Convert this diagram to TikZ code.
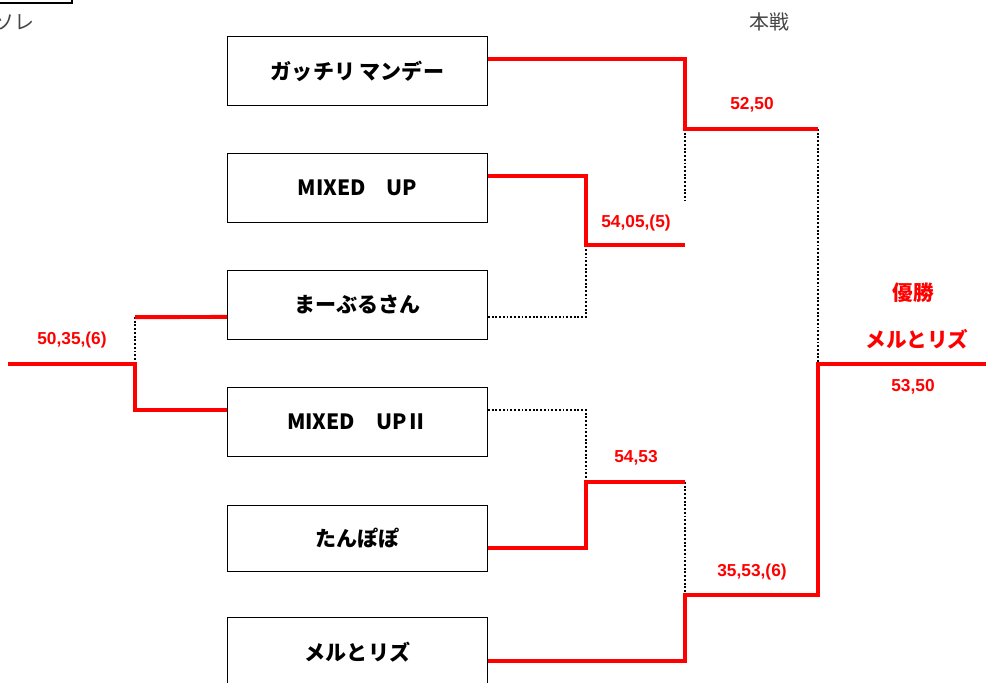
\documentclass[tikz,border=0pt]{standalone}
\usepackage{fontspec}
\setmainfont{Liberation Sans}
\newfontfamily\jp{Noto Sans CJK JP}
\usetikzlibrary{positioning}
\definecolor{wred}{RGB}{255,0,0}
\definecolor{note}{RGB}{70,70,70}
\tikzstyle{team} = [rectangle, minimum width=195pt, minimum height=52pt, text centered, draw=black, line width=1pt, font=\jp\bfseries\fontsize{15.8}{18}\selectfont]
\tikzstyle{win} = [line width=3pt, draw=wred]
\tikzstyle{lose} = [line width=1.4pt, draw=black, dash pattern=on 1.4pt off 1.4pt]
\tikzstyle{score} = [text=wred, font=\bfseries\fontsize{13}{15}\selectfont]
\tikzstyle{head} = [text=note, font=\jp\fontsize{15}{18}\selectfont]

\begin{document}
\begin{tikzpicture}[x=0.0264cm, y=-0.0264cm]
\clip (0,0) rectangle (986,682);
% Headings
\draw [line width=1.2pt] (-20,-20) rectangle (72,3);
\node (prev) [head] at (14,22) {ソレ};
\node (main) [head] at (769,22) {本戦};

% Teams
\node (b1) [team] at (357.5,71) {ガッチリ マンデー};
\node (b2) [team] at (357.5,188) {MIXED　UP};
\node (b3) [team] at (357.5,305) {まーぶるさん};
\node (b4) [team] at (357.5,422) {MIXED　UPⅡ};
\node (b5) [team, minimum height=50pt] at (357.5,538.5) {たんぽぽ};
\node (b6) [team] at (357.5,652) {メルとリズ};

% Junction points
\coordinate (s1) at (586,245);
\coordinate (s1end) at (685,245);
\coordinate (q1) at (685,129);
\coordinate (q1dot) at (685,200);
\coordinate (f1) at (818,129);
\coordinate (s2) at (586,482);
\coordinate (s2end) at (685,482);
\coordinate (q2) at (685,595);
\coordinate (f2) at (818,595);
\coordinate (fin) at (818,364);
\coordinate (champ) at (986,364);
\coordinate (l1) at (135,317);
\coordinate (l0) at (135,364);
\coordinate (lstart) at (8,364);

% Upper half
\draw [lose] ([yshift=-9pt]b3.east) -| (s1);
\draw [lose] (q1) -- (q1dot);
\draw [lose] (f1) -- (fin);
\draw [win] ([yshift=9pt]b2.east) -| (s1) -- (s1end);
\draw [win] ([yshift=9pt]b1.east) -| (q1) -- (f1);

% Lower half
\draw [lose] ([yshift=9pt]b4.east) -| (s2);
\draw [lose] (s2end) -- (q2);
\draw [win] ([yshift=-7pt]b5.east) -| (s2) -- (s2end);
\draw [win] ([yshift=-7pt]b6.east) -| (q2) -- (f2) -- (fin) -- (champ);

% Play-off on the left
\draw [lose] (l1) -- (l0);
\draw [win] ([yshift=-9pt]b3.west) -- (l1);
\draw [win] (lstart) -- (l0) |- ([yshift=9pt]b4.west);

% Scores
\node (sc1) [score] at (752,105) {52,50};
\node (sc2) [score] at (636,223) {54,05,(5)};
\node (sc3) [score] at (636,458) {54,53};
\node (sc4) [score] at (752,572) {35,53,(6)};
\node (sc5) [score] at (72,340) {50,35,(6)};

% Winner
\node (title) [text=wred, font=\jp\bfseries\fontsize{15.5}{18}\selectfont] at (913,293) {優勝};
\node (champname) [text=wred, font=\jp\bfseries\fontsize{15.5}{18}\selectfont] at (917,339) {メルとリズ};
\node (sc6) [score] at (913,387) {53,50};
\end{tikzpicture}
\end{document}
